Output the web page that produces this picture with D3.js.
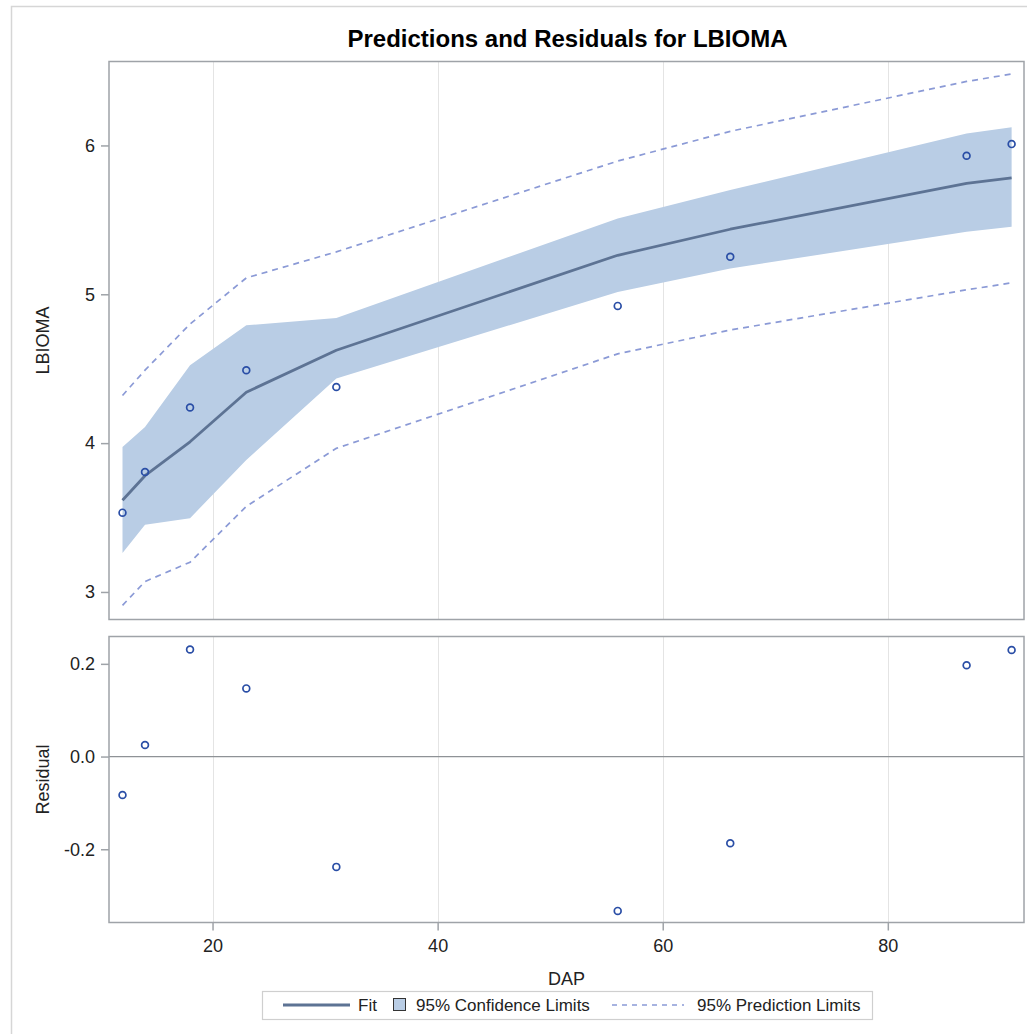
<!DOCTYPE html>
<html>
<head>
<meta charset="utf-8">
<script src="https://cdn.jsdelivr.net/npm/d3@7"></script>
<style>
  html, body { margin: 0; padding: 0; background: #fff; }
  svg { display: block; font-family: "Liberation Sans", Arial, sans-serif; }
</style>
</head>
<body>
<svg id="chart" width="1027" height="1034"></svg>
<script>
// Observations and fitted model for LBIOMA against DAP
const dap        = [12, 14, 18, 23, 31, 56, 66, 87, 91];
const lbioma     = [3.533, 3.806, 4.239, 4.490, 4.377, 4.922, 5.252, 5.931, 6.009];
const fitted     = [3.616, 3.781, 4.009, 4.342, 4.624, 5.262, 5.437, 5.745, 5.782];
const lowerCL    = [3.261, 3.452, 3.496, 3.886, 4.434, 5.016, 5.173, 5.420, 5.454];
const upperCL    = [3.974, 4.109, 4.523, 4.792, 4.840, 5.510, 5.700, 6.081, 6.122];
const lowerPL    = [2.910, 3.070, 3.200, 3.575, 3.965, 4.600, 4.760, 5.030, 5.077];
const upperPL    = [4.320, 4.490, 4.800, 5.110, 5.285, 5.895, 6.095, 6.430, 6.480];
const residuals  = [-0.083, 0.025, 0.231, 0.147, -0.238, -0.333, -0.187, 0.197, 0.230];

const xTicks     = [20, 40, 60, 80];
const yTicks     = [3, 4, 5, 6];
const resTicks   = [-0.2, 0.0, 0.2];
const resLabels  = ["-0.2", "0.0", "0.2"];

const titleText  = "Predictions and Residuals for LBIOMA";
const legendText = ["Fit", "95% Confidence Limits", "95% Prediction Limits"];

const rows = dap.map((d, i) => ({
  x: d, y: lbioma[i], fit: fitted[i],
  lcl: lowerCL[i], ucl: upperCL[i],
  lpl: lowerPL[i], upl: upperPL[i],
  res: residuals[i]
}));

const svg = d3.select("#chart");

// panel geometry
const left = 109, right = 1024;
const top1 = 61.5, bot1 = 619.5;
const top2 = 636.5, bot2 = 922.5;

const COL = {
  band: "#b9cde5",
  fit: "#5d7394",
  pred: "#8b9ad6",
  marker: "#2a4ea6",
  axis: "#9fa3a8",
  grid: "#e4e4e4",
  text: "#222"
};

// outer frame
svg.append("rect")
  .attr("x", 11.5).attr("y", 6.5)
  .attr("width", 1030).attr("height", 1040)
  .attr("fill", "none").attr("stroke", "#d6d6d6").attr("stroke-width", 1.5);

const x = d3.scaleLinear().domain([10.8, 92.1]).range([left, right]);
const y = d3.scaleLinear().domain([2.815, 6.564]).range([bot1, top1]);
const yr = d3.scaleLinear().domain([-0.358, 0.259]).range([bot2, top2]);

// title
svg.append("text")
  .attr("x", (left + right) / 2 + 1).attr("y", 47)
  .attr("text-anchor", "middle")
  .attr("font-size", 24).attr("font-weight", "bold").attr("fill", "#000")
  .text(titleText);

function gridLines(yTop, yBot) {
  svg.append("g").selectAll("line").data(xTicks).join("line")
    .attr("x1", d => Math.round(x(d)) + 0.5).attr("x2", d => Math.round(x(d)) + 0.5)
    .attr("y1", yTop).attr("y2", yBot)
    .attr("stroke", COL.grid).attr("stroke-width", 1);
}

// ---------- top panel ----------
gridLines(top1, bot1);

const plot1 = svg.append("g");
plot1.append("path").datum(rows)
  .attr("d", d3.area().x(d => x(d.x)).y0(d => y(d.lcl)).y1(d => y(d.ucl)))
  .attr("fill", COL.band);

["lpl", "upl"].forEach(k => {
  plot1.append("path").datum(rows)
    .attr("d", d3.line().x(d => x(d.x)).y(d => y(d[k])))
    .attr("fill", "none").attr("stroke", COL.pred)
    .attr("stroke-width", 1.7).attr("stroke-dasharray", "6,5");
});

plot1.append("path").datum(rows)
  .attr("d", d3.line().x(d => x(d.x)).y(d => y(d.fit)))
  .attr("fill", "none").attr("stroke", COL.fit).attr("stroke-width", 2.8)
  .attr("stroke-linejoin", "round");

plot1.selectAll("circle").data(rows).join("circle")
  .attr("cx", d => x(d.x)).attr("cy", d => y(d.y)).attr("r", 3.4)
  .attr("fill", "none").attr("stroke", COL.marker).attr("stroke-width", 1.7);

svg.append("rect")
  .attr("x", left).attr("y", top1).attr("width", right - left).attr("height", bot1 - top1)
  .attr("fill", "none").attr("stroke", COL.axis).attr("stroke-width", 1.5);

const yAxis = svg.append("g").attr("transform", `translate(${left},0)`)
  .call(d3.axisLeft(y).tickValues(yTicks).tickFormat(d3.format("d")).tickSize(8).tickPadding(6));

svg.append("text")
  .attr("transform", `translate(49,${(top1 + bot1) / 2}) rotate(-90)`)
  .attr("text-anchor", "middle").attr("font-size", 18).attr("fill", COL.text)
  .text("LBIOMA");

// ---------- residual panel ----------
gridLines(top2, bot2);

svg.append("line")
  .attr("x1", left).attr("x2", right)
  .attr("y1", yr(0)).attr("y2", yr(0))
  .attr("stroke", "#8e9296").attr("stroke-width", 1.2);

svg.append("g").selectAll("circle").data(rows).join("circle")
  .attr("cx", d => x(d.x)).attr("cy", d => yr(d.res)).attr("r", 3.4)
  .attr("fill", "none").attr("stroke", COL.marker).attr("stroke-width", 1.7);

svg.append("rect")
  .attr("x", left).attr("y", top2).attr("width", right - left).attr("height", bot2 - top2)
  .attr("fill", "none").attr("stroke", COL.axis).attr("stroke-width", 1.5);

const rAxis = svg.append("g").attr("transform", `translate(${left},0)`)
  .call(d3.axisLeft(yr).tickValues(resTicks)
    .tickFormat((d, i) => resLabels[i]).tickSize(8).tickPadding(6));

const xAxis = svg.append("g").attr("transform", `translate(0,${bot2})`)
  .call(d3.axisBottom(x).tickValues(xTicks).tickFormat(d3.format("d")).tickSize(8).tickPadding(9));

[yAxis, rAxis, xAxis].forEach(g => {
  g.select(".domain").remove();
  g.selectAll(".tick line").attr("stroke", COL.axis).attr("stroke-width", 1.5);
  g.selectAll(".tick text").attr("font-size", 18).attr("fill", COL.text)
    .attr("font-family", "Liberation Sans, Arial, sans-serif");
});

svg.append("text")
  .attr("transform", `translate(49,${(top2 + bot2) / 2}) rotate(-90)`)
  .attr("text-anchor", "middle").attr("font-size", 18).attr("fill", COL.text)
  .text("Residual");

svg.append("text")
  .attr("x", (left + right) / 2).attr("y", 985)
  .attr("text-anchor", "middle").attr("font-size", 18).attr("fill", COL.text)
  .text("DAP");

// ---------- legend ----------
const lg = svg.append("g");
const lgTop = 991, lgH = 28, lgMid = lgTop + lgH / 2;
lg.append("rect")
  .attr("x", 262.5).attr("y", lgTop + 0.5).attr("width", 610).attr("height", lgH)
  .attr("fill", "#fff").attr("stroke", "#cfcfcf").attr("stroke-width", 1.2);

lg.append("line").attr("x1", 283).attr("x2", 350).attr("y1", lgMid).attr("y2", lgMid)
  .attr("stroke", COL.fit).attr("stroke-width", 2.8);
lg.append("text").attr("x", 358).attr("y", lgMid + 6)
  .attr("font-size", 17).attr("fill", COL.text).text(legendText[0]);

lg.append("rect").attr("x", 393.5).attr("y", lgMid - 6.5).attr("width", 12).attr("height", 12)
  .attr("fill", COL.band).attr("stroke", "#333").attr("stroke-width", 1);
lg.append("text").attr("x", 416).attr("y", lgMid + 6)
  .attr("font-size", 17).attr("fill", COL.text).text(legendText[1]);

lg.append("line").attr("x1", 612).attr("x2", 684).attr("y1", lgMid).attr("y2", lgMid)
  .attr("stroke", COL.pred).attr("stroke-width", 1.3).attr("stroke-dasharray", "5,5");
lg.append("text").attr("x", 697).attr("y", lgMid + 6)
  .attr("font-size", 17).attr("fill", COL.text).text(legendText[2]);
</script>
</body>
</html>
